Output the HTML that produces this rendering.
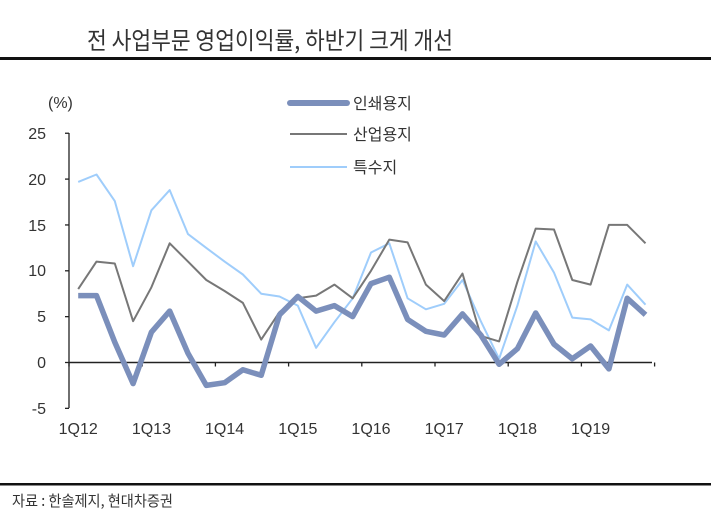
<!DOCTYPE html>
<html><head><meta charset="utf-8"><style>
body{margin:0;background:#fff;width:712px;height:527px;overflow:hidden;font-family:"Liberation Sans","Noto Sans CJK KR",sans-serif}
</style></head><body>
<svg id="s" width="712" height="527" xmlns="http://www.w3.org/2000/svg" font-family="Liberation Sans, Noto Sans CJK KR, sans-serif">
<text x="87" y="49" font-size="24" fill="#333" textLength="366" lengthAdjust="spacingAndGlyphs" font-family="Noto Sans CJK KR, sans-serif">전 사업부문 영업이익률, 하반기 크게 개선</text>
<rect x="0" y="57" width="711" height="3" fill="#111"/>
<rect x="0" y="483" width="711" height="2.5" fill="#111"/>
<text x="12" y="506" font-size="15" fill="#333" textLength="161" lengthAdjust="spacingAndGlyphs" font-family="Noto Sans CJK KR, sans-serif">자료 : 한솔제지, 현대차증권</text>
<g font-size="16" fill="#333">
<text x="48" y="108">(%)</text>
<text x="46" y="139" text-anchor="end">25</text>
<text x="46" y="185" text-anchor="end">20</text>
<text x="46" y="231" text-anchor="end">15</text>
<text x="46" y="276" text-anchor="end">10</text>
<text x="46" y="322" text-anchor="end">5</text>
<text x="46" y="368" text-anchor="end">0</text>
<text x="46" y="414" text-anchor="end">-5</text>
</g>
<g id="ax" stroke="#222" stroke-width="1.3"></g>
<g id="xl" font-size="16" fill="#333" text-anchor="middle"></g>
<g id="ser" fill="none" stroke-linejoin="round"></g>
<g font-size="16" fill="#333" font-family="Noto Sans CJK KR, sans-serif">
<line x1="290" y1="103" x2="347" y2="103" stroke="#7b8fbb" stroke-width="6" stroke-linecap="round"/>
<text x="353" y="109">인쇄용지</text>
<line x1="290" y1="134" x2="347" y2="134" stroke="#777" stroke-width="2"/>
<text x="353" y="140">산업용지</text>
<line x1="290" y1="167" x2="347" y2="167" stroke="#9fcdfb" stroke-width="2"/>
<text x="353" y="173">특수지</text>
</g>
</svg>
<script>
var NS="http://www.w3.org/2000/svg";
function el(p,t,a){var e=document.createElementNS(NS,t);for(var k in a)e.setAttribute(k,a[k]);document.getElementById(p).appendChild(e);return e;}
var y0=362.5,u=9.17,x0=78.2,dx=18.3;
function Y(v){return y0-v*u}
el("ax","line",{x1:69,y1:133,x2:69,y2:408});
for(var v=-5;v<=25;v+=5)el("ax","line",{x1:65,y1:Y(v),x2:69,y2:Y(v)});
el("ax","line",{x1:69,y1:y0,x2:652,y2:y0,"stroke-width":1.6});
for(var i=0;i<=8;i++){var x=69+i*4*dx;el("ax","line",{x1:x,y1:y0,x2:x,y2:y0+4});}
var yrs=["1Q12","1Q13","1Q14","1Q15","1Q16","1Q17","1Q18","1Q19"];
yrs.forEach(function(t,i){var e=el("xl","text",{x:x0+i*4*dx,y:434});e.textContent=t;});
var sp=[19.7,20.5,17.6,10.5,16.6,18.8,14,12.5,11,9.6,7.5,7.2,6.2,1.6,4.4,7,12,13,7,5.8,6.4,9,4.5,0.4,6.2,13.2,9.8,4.9,4.7,3.5,8.5,6.3];
var ind=[8,11,10.8,4.5,8.2,13,11,9,7.8,6.5,2.5,5.5,7,7.3,8.5,7,10,13.4,13.1,8.5,6.7,9.7,2.9,2.3,8.8,14.6,14.5,9,8.5,15,15,13];
var pr=[7.3,7.3,2.2,-2.3,3.3,5.6,1,-2.5,-2.2,-0.8,-1.4,5.2,7.2,5.6,6.2,5,8.6,9.3,4.7,3.4,3,5.3,3,-0.2,1.5,5.4,2,0.4,1.8,-0.7,7,5.2];
function pts(d){return d.map(function(v,i){return (x0+i*dx).toFixed(1)+","+Y(v).toFixed(1)}).join(" ")}
el("ser","polyline",{points:pts(sp),stroke:"#9fcdfb","stroke-width":2});
el("ser","polyline",{points:pts(ind),stroke:"#777","stroke-width":2});
el("ser","polyline",{points:pts(pr),stroke:"#7b8fbb","stroke-width":5.5});
</script>
</body></html>
